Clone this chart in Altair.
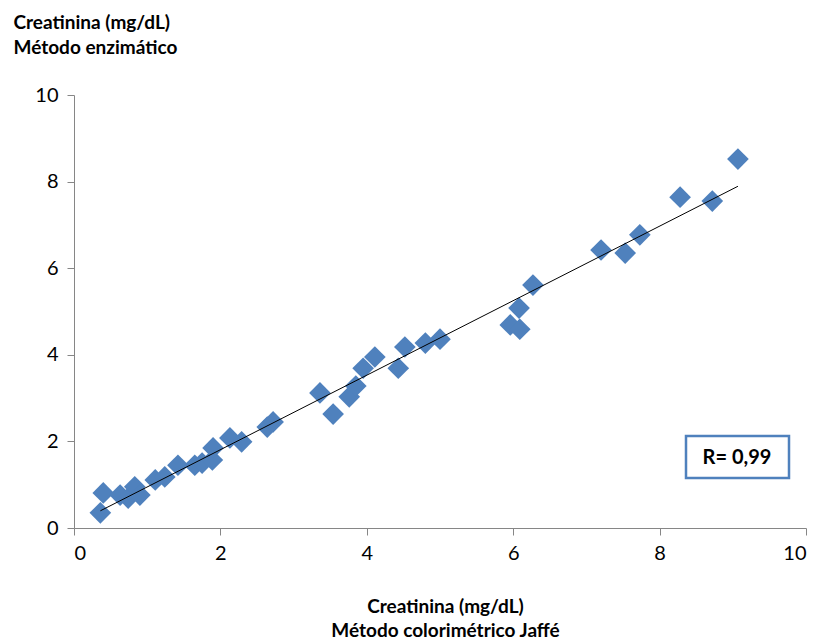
import altair as alt
import pandas as pd

jaffe = [0.36, 0.40, 0.63, 0.74, 0.83, 0.90, 1.11, 1.24, 1.42, 1.65, 1.75, 1.89, 1.90,
         2.13, 2.29, 2.64, 2.72, 3.36, 3.54, 3.76, 3.85, 3.95, 4.11, 4.43, 4.52, 4.80,
         5.00, 5.96, 6.09, 6.08, 6.27, 7.20, 7.53, 7.73, 8.28, 8.72, 9.07]
enzimatico = [0.35, 0.81, 0.76, 0.69, 0.95, 0.76, 1.11, 1.18, 1.45, 1.45, 1.50, 1.57, 1.85,
              2.08, 1.99, 2.33, 2.45, 3.12, 2.63, 3.03, 3.28, 3.69, 3.95, 3.69, 4.18, 4.27,
              4.36, 4.69, 4.59, 5.08, 5.61, 6.42, 6.35, 6.77, 7.64, 7.55, 8.52]
r_label = ["R= 0,99"]

df = pd.DataFrame({"x": jaffe, "y": enzimatico})
FONT = "Lato"
GRAY = "#868686"
BLUE = "#4F81BD"

xs = alt.X("x:Q", scale=alt.Scale(domain=[0, 10]),
           axis=alt.Axis(values=[0, 2, 4, 6, 8, 10], format="d", grid=False, domainColor=GRAY,
                         tickColor=GRAY, tickSize=7, labelFontSize=20, labelFont=FONT,
                         labelColor="#000000", labelPadding=8,
                         title=["Creatinina (mg/dL)", "Método colorimétrico Jaffé"],
                         titleFont=FONT, titleFontSize=19, titleFontWeight="bold",
                         titleColor="#000000", titleLineHeight=24, titleBaseline="alphabetic",
                         titleY=84, titleX=371))
ys = alt.Y("y:Q", scale=alt.Scale(domain=[0, 10]),
           axis=alt.Axis(values=[0, 2, 4, 6, 8, 10], format="d", grid=False, domainColor=GRAY,
                         tickColor=GRAY, tickSize=7, labelFontSize=20, labelFont=FONT,
                         labelColor="#000000", labelPadding=9,
                         title=["Creatinina (mg/dL)", "Método enzimático"],
                         titleFont=FONT, titleFontSize=19, titleFontWeight="bold",
                         titleColor="#000000", titleLineHeight=25, titleAngle=0,
                         titleAlign="left", titleBaseline="alphabetic", titleX=-61, titleY=-67))

points = alt.Chart(df).mark_point(shape="diamond", filled=True, size=470, color=BLUE,
                                  opacity=1).encode(x=xs, y=ys)
line = alt.Chart(df).transform_regression("x", "y").mark_line(
    color="#000000", strokeWidth=1).encode(x="x:Q", y="y:Q")

lab = pd.DataFrame({"t": r_label})
box = alt.Chart(lab).mark_rect(fill="white", stroke=BLUE, strokeWidth=2.5).encode(
    x=alt.value(612), x2=alt.value(715), y=alt.value(341), y2=alt.value(383))
txt = alt.Chart(lab).mark_text(font=FONT, fontSize=20, fontWeight="bold", color="#000000").encode(
    x=alt.value(663), y=alt.value(363), text="t:N")

chart = alt.layer(points, line, box, txt).properties(
    width=732, height=433,
    autosize=alt.AutoSizeParams(type="none"),
    padding={"left": 66, "top": 87, "right": 5, "bottom": 114},
).configure_view(stroke=None)

chart.save("out.html", embed_options={"renderer": "svg", "actions": False})
